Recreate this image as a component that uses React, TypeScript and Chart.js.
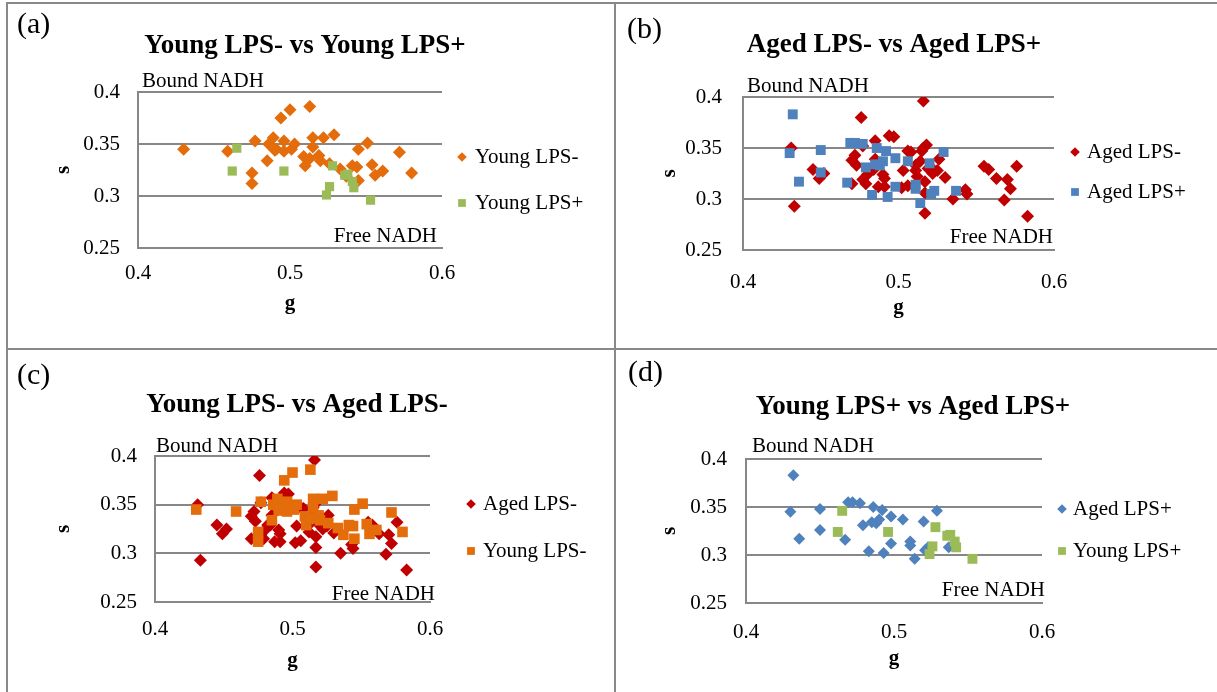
import React, { useEffect, useRef } from 'react';
import { Chart, registerables } from 'chart.js';

Chart.register(...registerables);

const SERIF = '"Liberation Serif", "Times New Roman", Times, serif';
const GRID = '#878787';

// [g, s] pairs
const youngLPSminus: [number, number][] = [
  [0.430, 0.345], [0.459, 0.343], [0.475, 0.322], [0.475, 0.312], [0.477, 0.353],
  [0.485, 0.334], [0.486, 0.350], [0.489, 0.356], [0.490, 0.344], [0.491, 0.345],
  [0.494, 0.375], [0.500, 0.383], [0.496, 0.353], [0.496, 0.343], [0.501, 0.345],
  [0.503, 0.350], [0.509, 0.338], [0.510, 0.329], [0.513, 0.336], [0.513, 0.386],
  [0.515, 0.356], [0.515, 0.347], [0.519, 0.339], [0.520, 0.334], [0.522, 0.356],
  [0.526, 0.331], [0.529, 0.359], [0.533, 0.326], [0.537, 0.319], [0.541, 0.329],
  [0.544, 0.328], [0.545, 0.345], [0.545, 0.315], [0.551, 0.351], [0.554, 0.330],
  [0.556, 0.320], [0.561, 0.324], [0.572, 0.342], [0.580, 0.322],
];

const youngLPSplus: [number, number][] = [
  [0.465, 0.346], [0.462, 0.324], [0.496, 0.324], [0.528, 0.329], [0.526, 0.309],
  [0.524, 0.301], [0.536, 0.320], [0.538, 0.321], [0.541, 0.314], [0.542, 0.308],
  [0.553, 0.296],
];

const agedLPSminus: [number, number][] = [
  [0.516, 0.396], [0.476, 0.380], [0.431, 0.350], [0.433, 0.293], [0.445, 0.329],
  [0.449, 0.320], [0.452, 0.325], [0.470, 0.338], [0.472, 0.343], [0.473, 0.333],
  [0.470, 0.315], [0.477, 0.352], [0.477, 0.319], [0.479, 0.315], [0.480, 0.324],
  [0.482, 0.329], [0.485, 0.357], [0.485, 0.339], [0.484, 0.329], [0.487, 0.312],
  [0.490, 0.324], [0.491, 0.320], [0.491, 0.312], [0.494, 0.362], [0.497, 0.361],
  [0.502, 0.311], [0.503, 0.328], [0.506, 0.313], [0.506, 0.347], [0.508, 0.346],
  [0.511, 0.333], [0.511, 0.328], [0.512, 0.322], [0.514, 0.337], [0.515, 0.347],
  [0.516, 0.350], [0.518, 0.353], [0.517, 0.317], [0.517, 0.306], [0.517, 0.286],
  [0.519, 0.330], [0.521, 0.331], [0.522, 0.325], [0.525, 0.328], [0.526, 0.339],
  [0.530, 0.321], [0.535, 0.300], [0.543, 0.309], [0.544, 0.305], [0.555, 0.332],
  [0.558, 0.329], [0.563, 0.320], [0.568, 0.299], [0.570, 0.319], [0.572, 0.310],
  [0.576, 0.332], [0.583, 0.283],
];

const agedLPSplus: [number, number][] = [
  [0.432, 0.383], [0.430, 0.345], [0.450, 0.348], [0.450, 0.326], [0.436, 0.317],
  [0.467, 0.316], [0.469, 0.355], [0.472, 0.355], [0.477, 0.354], [0.479, 0.331],
  [0.483, 0.304], [0.486, 0.350], [0.485, 0.334], [0.488, 0.333], [0.490, 0.337],
  [0.492, 0.347], [0.493, 0.302], [0.498, 0.340], [0.498, 0.312], [0.506, 0.337],
  [0.511, 0.314], [0.511, 0.310], [0.514, 0.296], [0.520, 0.335], [0.521, 0.305],
  [0.523, 0.308], [0.529, 0.346], [0.537, 0.308],
];

const xTicks = [0.4, 0.5, 0.6];
const yTicks = [0.25, 0.3, 0.35, 0.4];

const ORANGE = '#E46C0A';
const GREEN = '#9BBB59';
const RED = '#C00000';
const BLUE = '#4F81BD';

type Series = { label: string; data: [number, number][]; color: string; style: 'rectRot' | 'rect'; radius: number };
type Cfg = {
  letter: string; title: string; series: Series[];
  canvas: { x: number; y: number; w: number; h: number };
  area: { l: number; r: number; t: number; b: number };
  sX: number; gY: number; yTickPad: number; xTickPad: number;
  letterPos: [number, number]; titlePos: [number, number];
  boundPos: [number, number]; freePos: [number, number];
  legendX: number; legendTextX: number; legendY: number[];
};

const panels: Cfg[] = [
  {
    letter: '(a)', title: 'Young LPS- vs Young LPS+',
    series: [
      { label: 'Young LPS-', data: youngLPSminus, color: ORANGE, style: 'rectRot', radius: 6.5 },
      { label: 'Young LPS+', data: youngLPSplus, color: GREEN, style: 'rect', radius: 6.5 },
    ],
    canvas: { x: 8, y: 4, w: 606, h: 344 },
    area: { l: 138, r: 442, t: 92, b: 248 },
    sX: 65, gY: 308, yTickPad: 18, xTickPad: 13,
    letterPos: [17, 25], titlePos: [305, 46],
    boundPos: [142, 81], freePos: [437, 236],
    legendX: 462, legendTextX: 475, legendY: [157, 203],
  },
  {
    letter: '(b)', title: 'Aged LPS- vs Aged LPS+',
    series: [
      { label: 'Aged LPS-', data: agedLPSminus, color: RED, style: 'rectRot', radius: 6.5 },
      { label: 'Aged LPS+', data: agedLPSplus, color: BLUE, style: 'rect', radius: 7 },
    ],
    canvas: { x: 616, y: 4, w: 601, h: 344 },
    area: { l: 743, r: 1054, t: 97, b: 250 },
    sX: 671, gY: 312, yTickPad: 21, xTickPad: 20,
    letterPos: [627, 30], titlePos: [894, 45],
    boundPos: [747, 86], freePos: [1053, 237],
    legendX: 1075, legendTextX: 1087, legendY: [152, 192],
  },
  {
    letter: '(c)', title: 'Young LPS- vs Aged LPS-',
    series: [
      { label: 'Aged LPS-', data: agedLPSminus, color: RED, style: 'rectRot', radius: 6.5 },
      { label: 'Young LPS-', data: youngLPSminus, color: ORANGE, style: 'rect', radius: 7.5 },
    ],
    canvas: { x: 8, y: 350, w: 606, h: 342 },
    area: { l: 155, r: 430, t: 456, b: 602 },
    sX: 65, gY: 665, yTickPad: 18, xTickPad: 15,
    letterPos: [17, 376], titlePos: [297, 405],
    boundPos: [156, 446], freePos: [435, 594],
    legendX: 471, legendTextX: 483, legendY: [504, 551],
  },
  {
    letter: '(d)', title: 'Young LPS+ vs Aged LPS+',
    series: [
      { label: 'Aged LPS+', data: agedLPSplus, color: BLUE, style: 'rectRot', radius: 6 },
      { label: 'Young LPS+', data: youngLPSplus, color: GREEN, style: 'rect', radius: 7 },
    ],
    canvas: { x: 616, y: 350, w: 601, h: 342 },
    area: { l: 746, r: 1042, t: 459, b: 603 },
    sX: 671, gY: 663, yTickPad: 19, xTickPad: 17,
    letterPos: [628, 373], titlePos: [913, 407],
    boundPos: [752, 446], freePos: [1045, 590],
    legendX: 1062, legendTextX: 1073, legendY: [509, 551],
  },
];

const fmt = (v: number) => String(Number(Number(v).toFixed(2)));

function drawMarker(ctx: CanvasRenderingContext2D, style: string, x: number, y: number, r: number) {
  ctx.beginPath();
  if (style === 'rectRot') {
    ctx.moveTo(x - r, y);
    ctx.lineTo(x, y - r);
    ctx.lineTo(x + r, y);
    ctx.lineTo(x, y + r);
    ctx.closePath();
  } else {
    const h = r * Math.SQRT1_2;
    ctx.rect(x - h, y - h, 2 * h, 2 * h);
  }
  ctx.fill();
}

const decorPlugin = {
  id: 'decor',
  afterDraw(chart: any, _args: any, opts: any) {
    const cfg: Cfg = opts.cfg;
    if (!cfg) return;
    const ctx: CanvasRenderingContext2D = chart.ctx;
    const ox = cfg.canvas.x;
    const oy = cfg.canvas.y;
    ctx.save();
    ctx.fillStyle = '#000';
    ctx.textBaseline = 'middle';

    ctx.font = `30px ${SERIF}`;
    ctx.textAlign = 'left';
    ctx.fillText(cfg.letter, cfg.letterPos[0] - ox, cfg.letterPos[1] - oy);

    ctx.font = `bold 27px ${SERIF}`;
    ctx.textAlign = 'center';
    ctx.fillText(cfg.title, cfg.titlePos[0] - ox, cfg.titlePos[1] - oy);

    ctx.font = `21px ${SERIF}`;
    ctx.textAlign = 'left';
    ctx.fillText('Bound NADH', cfg.boundPos[0] - ox, cfg.boundPos[1] - oy);
    ctx.textAlign = 'right';
    ctx.fillText('Free NADH', cfg.freePos[0] - ox, cfg.freePos[1] - oy);

    ctx.textAlign = 'left';
    chart.data.datasets.forEach((ds: any, i: number) => {
      const y = cfg.legendY[i] - oy;
      ctx.fillStyle = ds.backgroundColor;
      drawMarker(ctx, ds.pointStyle, cfg.legendX - ox, y, ds.pointStyle === 'rectRot' ? 4.8 : 5.5);
      ctx.fillStyle = '#000';
      ctx.fillText(ds.label, cfg.legendTextX - ox, y);
    });
    ctx.restore();
  },
};

function Panel({ cfg }: { cfg: Cfg }) {
  const ref = useRef<HTMLCanvasElement | null>(null);
  useEffect(() => {
    const c = cfg.canvas;
    const padLeft = cfg.sX - 2 - 12 - c.x;
    const wy = cfg.area.l - c.x - padLeft;
    const xBoxBottom = cfg.gY - 4 + 12;
    const hx = xBoxBottom - cfg.area.b;
    const padBottom = c.y + c.h - xBoxBottom;
    const padTop = cfg.area.t - c.y;
    const padRight = c.x + c.w - cfg.area.r;
    const n = cfg.series.length;
    const chart = new Chart(ref.current as HTMLCanvasElement, {
      type: 'scatter',
      data: {
        datasets: cfg.series.map((s, i) => ({
          label: s.label,
          data: s.data.map(([x, y]) => ({ x, y })),
          pointStyle: s.style,
          pointRadius: s.radius,
          pointHoverRadius: s.radius,
          backgroundColor: s.color,
          borderColor: s.color,
          borderWidth: 0,
          order: n - i,
        })),
      },
      options: {
        animation: false,
        responsive: false,
        events: [],
        layout: { padding: { left: padLeft, right: padRight, top: padTop, bottom: padBottom } },
        plugins: {
          legend: { display: false },
          title: { display: false },
          tooltip: { enabled: false },
          decor: { cfg },
        } as any,
        scales: {
          x: {
            type: 'linear',
            min: 0.4,
            max: 0.6,
            afterBuildTicks: (s: any) => { s.ticks = xTicks.map((v) => ({ value: v })); },
            afterFit: (s: any) => { s.height = hx; },
            ticks: {
              font: { family: SERIF, size: 21 },
              color: '#000',
              padding: cfg.xTickPad,
              maxRotation: 0,
              autoSkip: false,
              callback: (v: any) => fmt(v),
            },
            grid: { display: true, drawOnChartArea: false, drawTicks: false, color: GRID, lineWidth: 2 },
            border: { display: true, color: GRID, width: 2 },
            title: { display: true, text: 'g', color: '#000', font: { family: SERIF, size: 21, weight: 'bold' }, padding: 0 },
          },
          y: {
            type: 'linear',
            min: 0.25,
            max: 0.4,
            afterBuildTicks: (s: any) => { s.ticks = yTicks.map((v) => ({ value: v })); },
            afterFit: (s: any) => { s.width = wy; },
            ticks: {
              font: { family: SERIF, size: 21 },
              color: '#000',
              padding: cfg.yTickPad,
              autoSkip: false,
              callback: (v: any) => fmt(v),
            },
            grid: { display: true, drawTicks: false, color: GRID, lineWidth: 2 },
            border: { display: true, color: GRID, width: 2 },
            title: { display: true, text: 's', color: '#000', font: { family: SERIF, size: 21, weight: 'bold' }, padding: 0 },
          },
        },
      } as any,
      plugins: [decorPlugin],
    });
    return () => chart.destroy();
  }, [cfg]);
  const c = cfg.canvas;
  return (
    <canvas
      ref={ref}
      width={c.w}
      height={c.h}
      style={{ position: 'absolute', left: c.x, top: c.y, width: c.w, height: c.h }}
    />
  );
}

const line = (left: number, top: number, width: number, height: number) => (
  <div style={{ position: 'absolute', left, top, width, height, background: '#888' }} />
);

export default function App() {
  return (
    <div style={{ position: 'absolute', left: 0, top: 0, width: 1217, height: 692, overflow: 'hidden', background: '#fff' }}>
      {panels.map((p) => <Panel key={p.letter} cfg={p} />)}
      {line(6, 2, 1211, 2)}
      {line(6, 2, 2, 690)}
      {line(614, 2, 2, 690)}
      {line(6, 348, 1211, 2)}
    </div>
  );
}
